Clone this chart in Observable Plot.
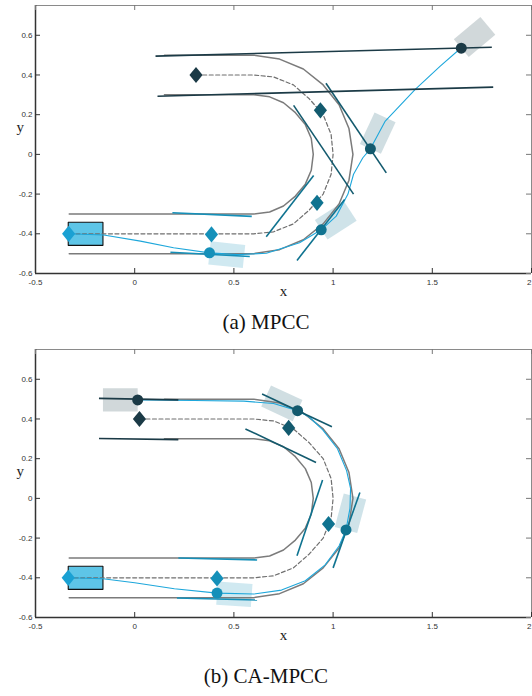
<!DOCTYPE html>
<html><head><meta charset="utf-8">
<script src="https://cdn.jsdelivr.net/npm/d3@7"></script>
<script src="https://cdn.jsdelivr.net/npm/@observablehq/plot@0.6"></script>
<style>
body{margin:0;background:#fff;width:532px;overflow:hidden;}
svg{display:block}
.cap{font-family:"Liberation Serif","Times New Roman",serif;font-size:21px;text-align:center;color:#111;box-sizing:border-box;}
</style></head><body>
<div id="pa"></div>
<div class="cap" style="height:35px;line-height:35px">(a) MPCC</div>
<div id="pb"></div>
<div class="cap" style="height:47px;line-height:40px;padding-top:7px">(b) CA-MPCC</div>
<script>
// axes
const xDomain = [-0.5, 2];
const yDomain = [-0.6, 0.75];
const xTicks = [-0.5, 0, 0.5, 1, 1.5, 2];
const yTicks = [-0.6, -0.4, -0.2, 0, 0.2, 0.4, 0.6];

// colour per prediction stage (0 = current, 4 = end of horizon)
const stageColors = ["#1aa1d3", "#1590b9", "#0f7390", "#135a6e", "#1b3a46"];
const carL = 0.175, carW = 0.117;

// track boundaries (shared by both panels)
const outerBound = [[0.15,0.50],[0.60,0.50],[0.73,0.48],[0.85,0.43],[0.95,0.35],[1.03,0.25],[1.08,0.13],[1.10,0.00],[1.08,-0.13],[1.03,-0.25],[0.95,-0.35],[0.85,-0.43],[0.73,-0.48],[0.60,-0.50],[-0.33,-0.50]];
const innerBound = [[0.15,0.30],[0.60,0.30],[0.68,0.29],[0.75,0.26],[0.81,0.21],[0.86,0.15],[0.89,0.08],[0.90,0.00],[0.89,-0.08],[0.86,-0.15],[0.81,-0.21],[0.75,-0.26],[0.68,-0.29],[0.60,-0.30],[-0.33,-0.30]];

// ---- panel (a) MPCC ----
const refPathA = [[0.31,0.40],[0.45,0.40],[0.60,0.40],[0.70,0.39],[0.80,0.35],[0.88,0.28],[0.95,0.20],[0.99,0.10],[1.00,0.00],[0.99,-0.10],[0.95,-0.20],[0.88,-0.28],[0.80,-0.35],[0.70,-0.39],[0.60,-0.40],[0.40,-0.40],[-0.333,-0.40]];
const trajA = [[-0.333,-0.400],[-0.156,-0.406],[0.029,-0.437],[0.196,-0.470],[0.377,-0.496],[0.52,-0.505],[0.664,-0.498],[0.831,-0.445],[0.940,-0.380],[1.016,-0.311],[1.075,-0.200],[1.103,-0.100],[1.150,-0.017],[1.188,0.028],[1.263,0.168],[1.414,0.327],[1.540,0.445],[1.646,0.537]];
const posesA = [[1,0.377,-0.496,-6],[2,0.940,-0.380,33],[3,1.188,0.028,65],[4,1.646,0.535,40]]; // stage, x, y, heading(deg)
const refPtsA = [[0,-0.333,-0.40],[1,0.387,-0.403],[2,0.919,-0.244],[3,0.936,0.222],[4,0.309,0.40]];
const constraintsA = [
  [1,0.19,-0.294,0.59,-0.312],[1,0.18,-0.493,0.58,-0.514],
  [2,0.663,-0.415,0.902,-0.106],[2,0.818,-0.534,1.058,-0.227],
  [3,0.801,0.247,1.103,-0.200],[3,0.964,0.358,1.268,-0.093],
  [4,0.105,0.495,1.800,0.540],[4,0.115,0.293,1.807,0.339]
];
const startCarA = [-0.335,-0.40,0];

// ---- panel (b) CA-MPCC ----
const refPathB = [[0.024,0.40],[0.30,0.40],[0.60,0.40],[0.70,0.39],[0.80,0.35],[0.88,0.28],[0.95,0.20],[0.99,0.10],[1.00,0.00],[0.99,-0.10],[0.95,-0.20],[0.88,-0.28],[0.80,-0.35],[0.70,-0.39],[0.60,-0.40],[0.40,-0.40],[-0.335,-0.40]];
const trajB = [[-0.335,-0.400],[-0.160,-0.405],[0.000,-0.425],[0.200,-0.455],[0.415,-0.477],[0.600,-0.482],[0.740,-0.462],[0.860,-0.415],[0.960,-0.335],[1.030,-0.240],[1.065,-0.159],[1.085,-0.050],[1.088,0.050],[1.068,0.140],[1.022,0.250],[0.948,0.345],[0.880,0.410],[0.821,0.442],[0.700,0.478],[0.550,0.490],[0.300,0.493],[0.015,0.496]];
const posesB = [[1,0.415,-0.477,-4],[2,1.065,-0.159,75],[3,0.821,0.442,155],[4,0.015,0.496,180]];
const refPtsB = [[0,-0.335,-0.40],[1,0.415,-0.403],[2,0.977,-0.129],[3,0.776,0.355],[4,0.024,0.40]];
const constraintsB = [
  [1,0.22,-0.300,0.617,-0.310],[1,0.213,-0.502,0.617,-0.512],
  [2,0.818,-0.289,0.947,0.093],[2,1.000,-0.350,1.135,0.030],
  [3,0.558,0.350,0.914,0.181],[3,0.642,0.526,0.994,0.361],
  [4,-0.18,0.504,0.22,0.496],[4,-0.18,0.302,0.22,0.296]
];
const startCarB = [-0.335,-0.40,0];

// rear-centre pose -> rectangle outline in data units
function carPoly([x, y, hdg]) {
  const t = hdg * Math.PI / 180, c = Math.cos(t), s = Math.sin(t), hw = carW / 2;
  const rl = [x - hw * s, y + hw * c], rr = [x + hw * s, y - hw * c];
  return [rl, rr, [rr[0] + carL * c, rr[1] + carL * s], [rl[0] + carL * c, rl[1] + carL * s], rl];
}
const tallDiamond = {
  draw(ctx, size) {
    const r = Math.sqrt(size / Math.PI);
    ctx.moveTo(0, -1.5 * r); ctx.lineTo(1.22 * r, 0); ctx.lineTo(0, 1.5 * r); ctx.lineTo(-1.22 * r, 0); ctx.closePath();
  }
};
const X = d => d[0], Y = d => d[1];
const tickFmt = d => String(d);

function panel({refPath, traj, poses, refPts, constraints, start, marginTop}) {
  const plotH = 268, plotW = 496, mL = 35, mR = 1, mB = 32;
  const marks = [];
  poses.forEach(p => marks.push(Plot.line(carPoly(p.slice(1)), {x: X, y: Y, fill: stageColors[p[0]], fillOpacity: 0.2, stroke: "none"})));
  marks.push(Plot.line(carPoly(start), {x: X, y: Y, fill: "#5ec5e7", stroke: "#111", strokeWidth: 1.1, strokeLinejoin: "miter"}));
  marks.push(Plot.line(outerBound, {x: X, y: Y, stroke: "#7b7b7b", strokeWidth: 1.5}));
  marks.push(Plot.line(innerBound, {x: X, y: Y, stroke: "#7b7b7b", strokeWidth: 1.5}));
  marks.push(Plot.line(refPath, {x: X, y: Y, stroke: "#6f6f6f", strokeWidth: 1.2, strokeDasharray: "4,2.5"}));
  marks.push(Plot.line(traj, {x: X, y: Y, stroke: "#1ea7db", strokeWidth: 1.1}));
  marks.push(Plot.link(constraints, {x1: d => d[1], y1: d => d[2], x2: d => d[3], y2: d => d[4], stroke: d => stageColors[d[0]], strokeWidth: 1.6}));
  marks.push(Plot.dot(refPts, {x: d => d[1], y: d => d[2], fill: d => stageColors[d[0]], stroke: "none", r: 5.4, symbol: tallDiamond}));
  marks.push(Plot.dot(poses, {x: d => d[1], y: d => d[2], fill: d => stageColors[d[0]], stroke: "none", r: 5.5}));
  // box
  marks.push(Plot.ruleY([yDomain[1]], {stroke: "#8a8a8a", strokeWidth: 1}));
  marks.push(Plot.ruleX([xDomain[1]], {stroke: "#8a8a8a", strokeWidth: 1}));
  marks.push(Plot.ruleX([xDomain[0]], {stroke: "#333", strokeWidth: 1.5}));
  marks.push(Plot.ruleY([yDomain[0]], {stroke: "#333", strokeWidth: 1.5}));
  // inward ticks
  marks.push(Plot.tickX(xTicks, {x: d => d, insetTop: plotH - 5, stroke: "#333"}));
  marks.push(Plot.tickX(xTicks, {x: d => d, insetBottom: plotH - 5, stroke: "#777"}));
  marks.push(Plot.tickY(yTicks, {y: d => d, insetRight: plotW - 5, stroke: "#333"}));
  marks.push(Plot.tickY(yTicks, {y: d => d, insetLeft: plotW - 5, stroke: "#777"}));
  // tick labels (last x label kept inside the page)
  marks.push(Plot.axisX(xTicks.slice(0, -1), {anchor: "bottom", tickSize: 0, tickPadding: 6, tickFormat: tickFmt, label: null, fontSize: 8}));
  marks.push(Plot.axisX(xTicks.slice(-1), {anchor: "bottom", tickSize: 0, tickPadding: 6, tickFormat: tickFmt, label: null, fontSize: 8, textAnchor: "end", dx: 0}));
  marks.push(Plot.axisY(yTicks, {anchor: "left", tickSize: 0, tickPadding: 3, tickFormat: tickFmt, label: null, fontSize: 8}));
  // axis titles
  marks.push(Plot.text(["x"], {frameAnchor: "bottom", text: d => d, dy: 22.5, fontSize: 15, fontFamily: "Liberation Serif", fill: "#222"}));
  marks.push(Plot.text(["y"], {frameAnchor: "left", text: d => d, dx: -19, dy: -12, fontSize: 15, fontFamily: "Liberation Serif", fill: "#222"}));
  return Plot.plot({
    width: 532, height: marginTop + plotH + mB,
    marginLeft: mL, marginRight: mR, marginTop, marginBottom: mB,
    x: {domain: xDomain}, y: {domain: yDomain},
    color: {type: "identity"},
    style: {background: "white", color: "#333", fontFamily: "Liberation Sans, Arial, sans-serif", fontSize: "8px", overflow: "visible"},
    marks
  });
}

document.getElementById("pa").append(panel({refPath: refPathA, traj: trajA, poses: posesA, refPts: refPtsA, constraints: constraintsA, start: startCarA, marginTop: 5}));
document.getElementById("pb").append(panel({refPath: refPathB, traj: trajB, poses: posesB, refPts: refPtsB, constraints: constraintsB, start: startCarB, marginTop: 9}));
</script>
</body></html>
